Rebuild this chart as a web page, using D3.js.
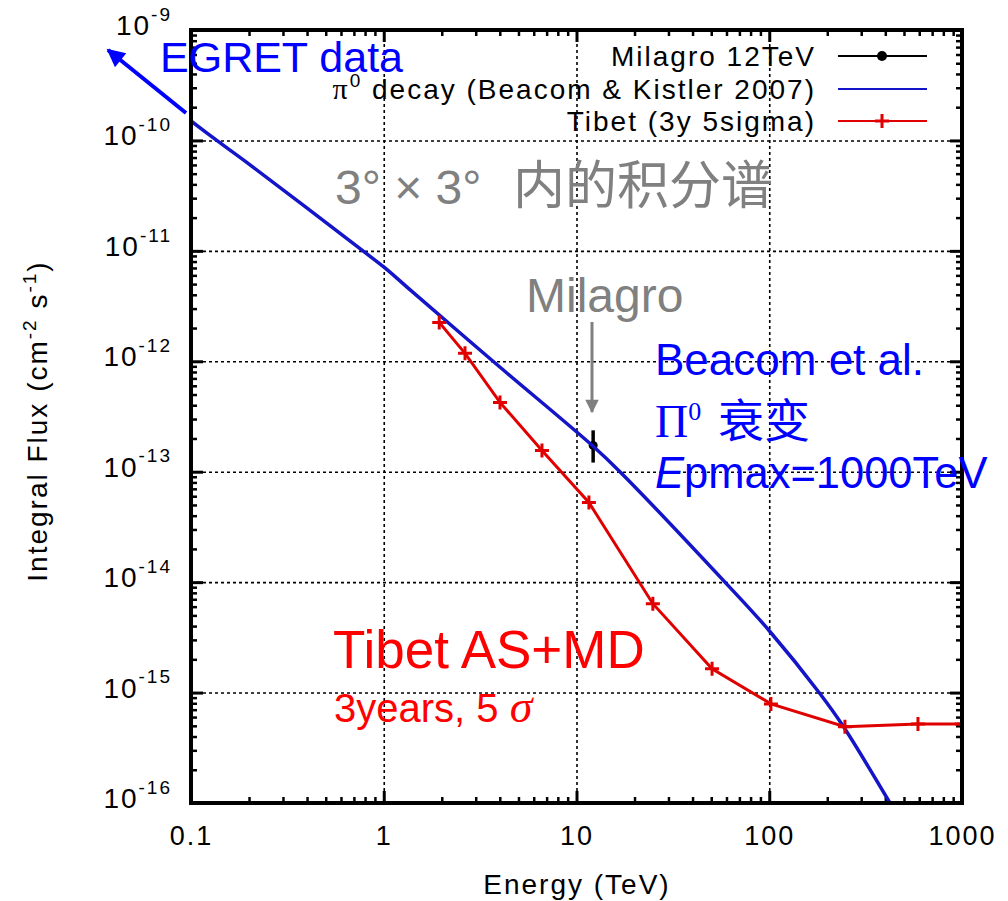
<!DOCTYPE html>
<html><head><meta charset="utf-8">
<script src="https://cdn.jsdelivr.net/npm/d3@7"></script>
<style>
body{margin:0;background:#fff;}
svg{display:block;}
.gp{font-family:"Liberation Sans",Arial,sans-serif;letter-spacing:2px;}
</style></head><body>
<svg id="chart" width="1008" height="901"></svg>
<script>
// ---------- data ----------
const xTickValues = [0.1, 1, 10, 100, 1000];
const xTickLabels = ["0.1", "1", "10", "100", "1000"];
const yTickValues = [1e-16, 1e-15, 1e-14, 1e-13, 1e-12, 1e-11, 1e-10, 1e-9];
const yTickExponents = ["-16", "-15", "-14", "-13", "-12", "-11", "-10", "-9"];

const piEnergy = [0.1, 0.136, 0.2, 0.78, 1, 1.32, 3.69, 12.2, 16.8, 58.9, 100, 183, 241, 423];
const piFlux   = [1.5e-10, 1e-10, 6.1e-11, 1e-11, 7.15e-12, 4.7e-12, 1e-12, 1.7e-13, 1e-13, 1e-14, 3.63e-15, 9.8e-16, 5e-16, 1e-16];

const tibetEnergy = [1.94, 2.64, 4.01, 6.62, 11.6, 24.9, 50.5, 102, 247, 591, 1000];
const tibetFlux   = [2.25e-12, 1.18e-12, 4.24e-13, 1.56e-13, 5.26e-14, 6.38e-15, 1.64e-15, 7.9e-16, 4.9e-16, 5.2e-16, 5.2e-16];

const milagroEnergy = [12.2];
const milagroFlux   = [1.73e-13];
const milagroLow    = [1.21e-13];
const milagroHigh   = [2.37e-13];

const legendLabels = ["Milagro 12TeV", "decay (Beacom & Kistler 2007)", "Tibet (3y 5sigma)"];

// ---------- layout ----------
const L = 191, R = 962, T = 30, B = 803;
const svg = d3.select("#chart");
const x = d3.scaleLog().domain([0.1, 1000]).range([L, R]);
const y = d3.scaleLog().domain([1e-16, 1e-9]).range([B, T]);

const xMinor = d3.range(-1, 3).flatMap(p => d3.range(2, 10).map(k => k * Math.pow(10, p)));
const yMinor = d3.range(-16, -9).flatMap(p => d3.range(2, 10).map(k => k * Math.pow(10, p)));

const blue = "#1414c8", red = "#e00000";

svg.append("rect").attr("width", 1008).attr("height", 901).attr("fill", "#fff");

svg.append("defs").append("clipPath").attr("id", "clip")
  .append("rect").attr("x", L).attr("y", T).attr("width", R - L).attr("height", B - T);

// grid
const grid = svg.append("g").attr("stroke", "#000");
grid.append("g").attr("transform", `translate(0,${B})`)
  .call(d3.axisBottom(x).tickValues(xTickValues.slice(1, -1)).tickSize(-(B - T)).tickFormat(""));
grid.append("g").attr("transform", `translate(${L},0)`)
  .call(d3.axisLeft(y).tickValues(yTickValues.slice(1, -1)).tickSize(-(R - L)).tickFormat(""));
grid.selectAll(".domain").remove();
grid.selectAll(".tick line").attr("stroke", "#000").attr("stroke-width", 1.6).attr("stroke-dasharray", "3,3");

// ticks on all four sides
function ticks(axisFn, tr, vals, size, w) {
  const g = svg.append("g").attr("transform", tr)
    .call(axisFn.tickValues(vals).tickSize(size).tickFormat(""));
  g.select(".domain").remove();
  g.selectAll(".tick line").attr("stroke", "#000").attr("stroke-width", w);
}
ticks(d3.axisBottom(x), `translate(0,${B})`, xTickValues, -12, 3);
ticks(d3.axisBottom(x), `translate(0,${B})`, xMinor, -6, 2.5);
ticks(d3.axisTop(x), `translate(0,${T})`, xTickValues, -12, 3);
ticks(d3.axisTop(x), `translate(0,${T})`, xMinor, -6, 2.5);
ticks(d3.axisLeft(y), `translate(${L},0)`, yTickValues, -12, 3);
ticks(d3.axisLeft(y), `translate(${L},0)`, yMinor, -6, 2.5);
ticks(d3.axisRight(y), `translate(${R},0)`, yTickValues, -12, 3);
ticks(d3.axisRight(y), `translate(${R},0)`, yMinor, -6, 2.5);

// tick labels
const xl = svg.append("g").attr("class", "gp").attr("transform", `translate(0,${B})`)
  .call(d3.axisBottom(x).tickValues(xTickValues).tickSize(0).tickPadding(23)
    .tickFormat((d, i) => xTickLabels[i]));
xl.select(".domain").remove();
xl.selectAll("text").attr("font-size", 27).attr("fill", "#000").attr("font-family", null);

const yl = svg.append("g").attr("class", "gp").attr("transform", `translate(${L},0)`)
  .call(d3.axisLeft(y).tickValues(yTickValues).tickSize(0).tickPadding(19).tickFormat(""));
yl.select(".domain").remove();
yl.selectAll("text").attr("font-family", null).attr("fill", "#000").attr("dy", "0.45em")
  .each(function(d, i) {
    const t = d3.select(this);
    t.append("tspan").attr("font-size", 28).text("10");
    t.append("tspan").attr("font-size", 19).attr("dy", "-0.75em").text(yTickExponents[i]);
  });

// axis titles
svg.append("text").attr("class", "gp").attr("x", 577).attr("y", 894)
  .attr("text-anchor", "middle").attr("font-size", 28).text("Energy (TeV)");
const yt = svg.append("text").attr("class", "gp").attr("transform", "translate(47,421) rotate(-90)")
  .attr("text-anchor", "middle").attr("font-size", 28);
yt.append("tspan").text("Integral Flux (cm");
yt.append("tspan").attr("font-size", 19).attr("dy", -11).text("-2");
yt.append("tspan").attr("dy", 11).text(" s");
yt.append("tspan").attr("font-size", 19).attr("dy", -11).text("-1");
yt.append("tspan").attr("dy", 11).text(")");

// data
const plot = svg.append("g").attr("clip-path", "url(#clip)");

// Milagro
const mil = plot.append("g");
mil.selectAll("line").data(milagroEnergy).join("line")
  .attr("x1", d => x(d)).attr("x2", d => x(d))
  .attr("y1", (d, i) => y(milagroLow[i])).attr("y2", (d, i) => y(milagroHigh[i]))
  .attr("stroke", "#000").attr("stroke-width", 3.5);
mil.selectAll("circle").data(milagroEnergy).join("circle")
  .attr("cx", d => x(d)).attr("cy", (d, i) => y(milagroFlux[i])).attr("r", 4.5).attr("fill", "#000");

// pi0
const piLine = d3.line().x(d => x(d[0])).y(d => y(d[1])).curve(d3.curveCatmullRom.alpha(0.5));
plot.append("path").datum(piEnergy.map((e, i) => [e, piFlux[i]]))
  .attr("d", piLine).attr("fill", "none").attr("stroke", blue).attr("stroke-width", 3.5);

// Tibet
const tib = tibetEnergy.map((e, i) => [e, tibetFlux[i]]);
plot.append("path").datum(tib)
  .attr("d", d3.line().x(d => x(d[0])).y(d => y(d[1])))
  .attr("fill", "none").attr("stroke", red).attr("stroke-width", 3);
plot.selectAll(".tp").data(tib).join("path").attr("class", "tp")
  .attr("transform", d => `translate(${x(d[0])},${y(d[1])})`)
  .attr("d", "M-7,0H7M0,-7V7").attr("stroke", red).attr("stroke-width", 3);

// frame
svg.append("rect").attr("x", L).attr("y", T).attr("width", R - L).attr("height", B - T)
  .attr("fill", "none").attr("stroke", "#000").attr("stroke-width", 4);

// legend
const legY = [56, 89, 121];
const leg = svg.append("g").attr("class", "gp");
legendLabels.forEach((lab, i) => {
  const t = leg.append("text").attr("x", 816).attr("y", legY[i]).attr("dy", "0.36em")
    .attr("text-anchor", "end").attr("font-size", 28);
  if (i === 1) {
    t.append("tspan").attr("font-family", "Liberation Serif").attr("font-size", 30).text("π");
    t.append("tspan").attr("font-size", 19).attr("dy", -12).text("0");
    t.append("tspan").attr("dy", 12).text(" " + lab);
  } else t.text(lab);
});
leg.append("line").attr("x1", 838).attr("x2", 927).attr("y1", legY[0]).attr("y2", legY[0]).attr("stroke", "#000").attr("stroke-width", 2);
leg.append("circle").attr("cx", 882).attr("cy", legY[0]).attr("r", 5).attr("fill", "#000");
leg.append("line").attr("x1", 838).attr("x2", 927).attr("y1", legY[1]).attr("y2", legY[1]).attr("stroke", blue).attr("stroke-width", 2);
leg.append("line").attr("x1", 838).attr("x2", 927).attr("y1", legY[2]).attr("y2", legY[2]).attr("stroke", red).attr("stroke-width", 2);
leg.append("path").attr("transform", `translate(882,${legY[2]})`).attr("d", "M-7,0H7M0,-7V7").attr("stroke", red).attr("stroke-width", 3);

// annotations
const defs = svg.select("defs");
defs.append("marker").attr("id", "ahB").attr("viewBox", "0 0 10 10").attr("refX", 9).attr("refY", 5)
  .attr("markerWidth", 5).attr("markerHeight", 4.5).attr("markerUnits", "strokeWidth").attr("orient", "auto")
  .append("path").attr("d", "M0,0L10,5L0,10z").attr("fill", "#0000ff");
defs.append("marker").attr("id", "ahG").attr("viewBox", "0 0 10 10").attr("refX", 9).attr("refY", 5)
  .attr("markerWidth", 5).attr("markerHeight", 4.5).attr("markerUnits", "strokeWidth").attr("orient", "auto")
  .append("path").attr("d", "M0,0L10,5L0,10z").attr("fill", "#808080");

svg.append("line").attr("x1", 186).attr("y1", 113).attr("x2", 108).attr("y2", 50)
  .attr("stroke", "#0000ff").attr("stroke-width", 4).attr("marker-end", "url(#ahB)");
svg.append("line").attr("x1", 592).attr("y1", 322).attr("x2", 592).attr("y2", 412)
  .attr("stroke", "#808080").attr("stroke-width", 3).attr("marker-end", "url(#ahG)");

const sans = "'Liberation Sans',Arial,sans-serif";
const cjk = "'Noto Sans CJK SC',sans-serif";
svg.append("text").attr("x", 160).attr("y", 72).attr("font-family", sans).attr("font-size", 43)
  .attr("fill", "#0000ff").text("EGRET data");

const g3 = svg.append("text").attr("y", 204).attr("font-size", 48).attr("fill", "#808080").attr("font-family", sans);
g3.append("tspan").attr("x", 335).text("3° × 3°");
g3.append("tspan").attr("x", 513).attr("font-family", cjk).attr("font-size", 52).text("内的积分谱");

svg.append("text").attr("x", 526).attr("y", 312).attr("font-family", sans).attr("font-size", 48)
  .attr("fill", "#808080").text("Milagro");

svg.append("text").attr("x", 655).attr("y", 375).attr("font-family", sans).attr("font-size", 44)
  .attr("fill", "#0000ff").text("Beacom et al.");
const pi0 = svg.append("text").attr("x", 655).attr("y", 437).attr("fill", "#0000ff");
pi0.append("tspan").attr("font-family", "'Liberation Serif',serif").attr("font-size", 46).text("Π");
pi0.append("tspan").attr("font-family", "'Liberation Serif',serif").attr("font-size", 26).attr("dy", -17).text("0");
pi0.append("tspan").attr("font-family", cjk).attr("font-size", 46).attr("dy", 17).attr("x", 718).text("衰变");
const ep = svg.append("text").attr("x", 655).attr("y", 488).attr("font-family", sans).attr("font-size", 43.5).attr("fill", "#0000ff");
ep.append("tspan").attr("font-style", "italic").text("E");
ep.append("tspan").text("pmax=1000TeV");

svg.append("text").attr("x", 333).attr("y", 668).attr("font-family", sans).attr("font-size", 53)
  .attr("fill", "#ff0000").text("Tibet AS+MD");
const yr = svg.append("text").attr("x", 334).attr("y", 722).attr("fill", "#ff0000");
yr.append("tspan").attr("font-family", sans).attr("font-size", 40).text("3years, 5 ");
yr.append("tspan").attr("font-family", "'Liberation Serif',serif").attr("font-style", "italic").attr("font-size", 46).text("σ");
</script>
</body></html>
